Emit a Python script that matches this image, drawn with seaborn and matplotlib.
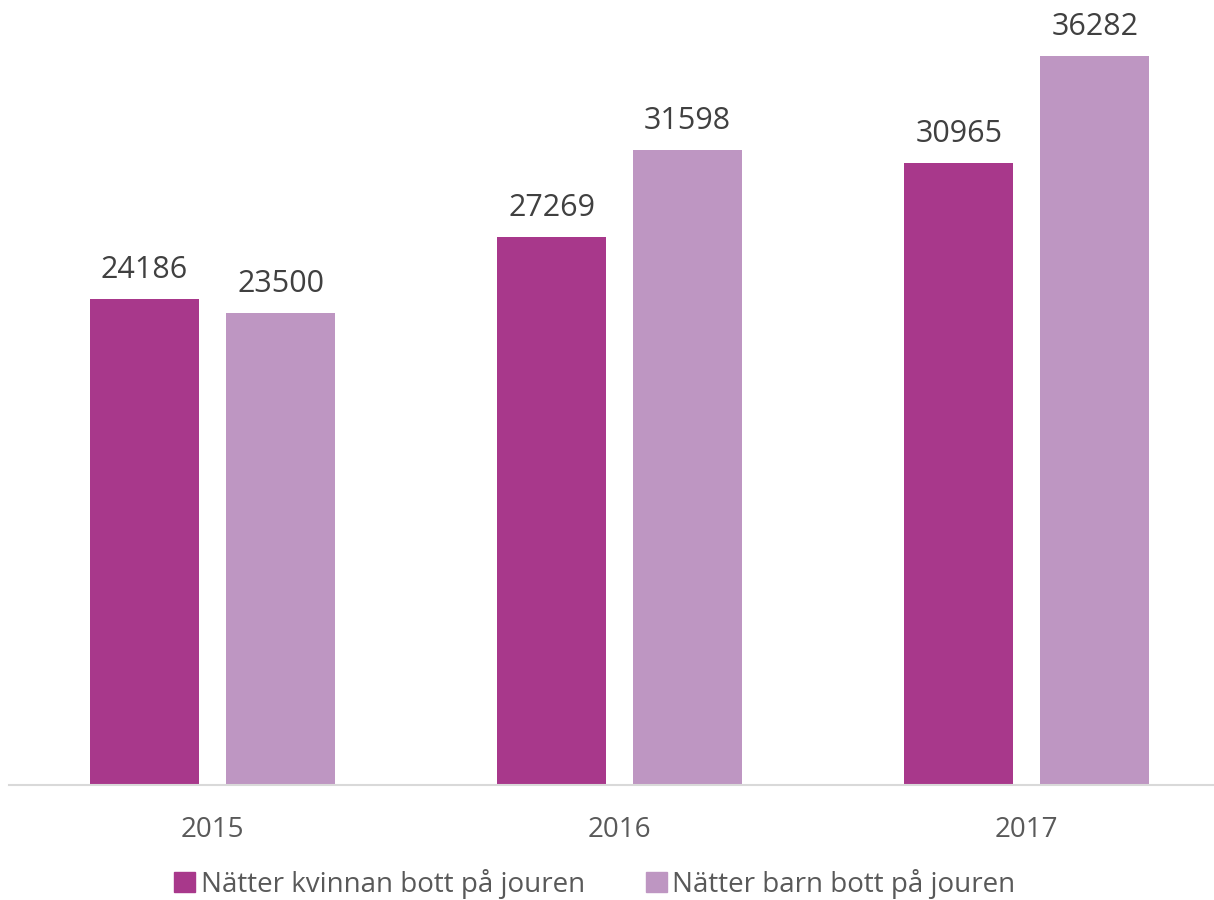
import pandas as pd
import matplotlib.pyplot as plt
import seaborn as sns

years = ['2015', '2016', '2017']
kvinnor = [24186, 27269, 30965]
barn = [23500, 31598, 36282]
series_names = ['Nätter kvinnan bott på jouren', 'Nätter barn bott på jouren']
colors = ['#A8388B', '#BE96C2']

df = pd.DataFrame({
    'year': years * 2,
    'value': kvinnor + barn,
    'series': [series_names[0]] * 3 + [series_names[1]] * 3,
})

sns.set_theme(style='white')
plt.rcParams['font.family'] = ['Open Sans', 'DejaVu Sans']

fig = plt.figure(figsize=(12.14, 9), dpi=100)
ax = fig.add_axes([9 / 1214, 115 / 900, 1205 / 1214, 785 / 900])

sns.barplot(data=df, x='year', y='value', hue='series', palette=colors,
            saturation=1, width=0.668, gap=0.2, linewidth=0, ax=ax, legend=False)

for cont in ax.containers:
    ax.bar_label(cont, labels=[str(int(v)) for v in cont.datavalues],
                 padding=10, fontsize=22, color='#404040')

ax.set_ylim(0, 39070)
ax.set_xlim(-0.5, 2.46)
ax.set_xlabel('')
ax.set_ylabel('')
ax.set_yticks([])
for s in ['top', 'right', 'left']:
    ax.spines[s].set_visible(False)
ax.spines['bottom'].set_color('#D9D9D9')
ax.spines['bottom'].set_linewidth(1.5)
ax.tick_params(axis='x', length=0, pad=22, labelsize=20, labelcolor='#595959')

handles = [plt.Rectangle((0, 0), 1, 1, color=c) for c in colors]
fig.legend(handles, series_names, loc='center', bbox_to_anchor=(0.49, 0.018),
           ncol=2, frameon=False, fontsize=20, labelcolor='#595959',
           handlelength=0.75, handleheight=0.75, handletextpad=0.2,
           columnspacing=2.2)

fig.savefig('out.png', dpi=100)
